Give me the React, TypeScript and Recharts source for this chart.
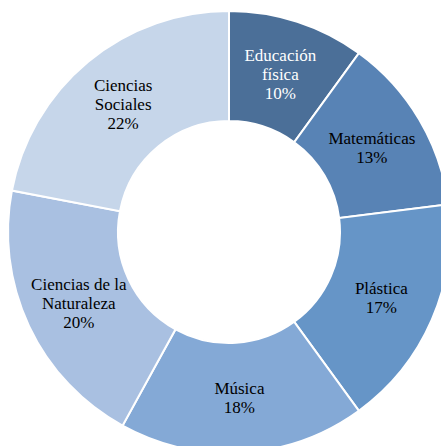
import React from 'react';
import { PieChart, Pie, Cell } from 'recharts';

const categories: string[][] = [
  ['Educación', 'física'],
  ['Matemáticas'],
  ['Plástica'],
  ['Música'],
  ['Ciencias de la', 'Naturaleza'],
  ['Ciencias', 'Sociales'],
];
const values = [10, 13, 17, 18, 20, 22];
const colors = ['#4b6f98', '#5883b5', '#6695c7', '#84a9d6', '#a9c0e1', '#c6d6ea'];
const textColors = ['#ffffff', '#000000', '#000000', '#000000', '#000000', '#000000'];

const data = categories.map((lines, i) => ({
  name: lines.join(' '),
  lines,
  value: values[i],
}));

const RAD = Math.PI / 180;
const FONT = 'Liberation Serif, DejaVu Serif, serif';

const renderLabel = (props: any) => {
  const { cx, cy, midAngle, innerRadius, outerRadius, index } = props;
  const r = (innerRadius + outerRadius) / 2;
  const x = cx + r * Math.cos(-midAngle * RAD);
  const y = cy + r * Math.sin(-midAngle * RAD);
  const lines = [...categories[index], `${values[index]}%`];
  const lh = 19;
  const start = y - ((lines.length - 1) * lh) / 2;
  return (
    <g key={`lbl-${index}`}>
      {lines.map((l, i) => (
        <text
          key={i}
          x={x}
          y={start + i * lh + 6}
          textAnchor="middle"
          fill={textColors[index]}
          fontFamily={FONT}
          fontSize={17}
          style={{ fontFamily: FONT, fontSize: '17px' }}
        >
          {l}
        </text>
      ))}
    </g>
  );
};

export default function App() {
  return (
    <div style={{ position: 'absolute', left: 0, top: 0, width: 441, height: 446, background: '#fff', fontFamily: FONT }}>
      <PieChart width={441} height={446} margin={{ top: 0, right: 0, bottom: 0, left: 0 }}>
        <Pie
          data={data}
          dataKey="value"
          cx={229}
          cy={232}
          innerRadius={111}
          outerRadius={221}
          startAngle={90}
          endAngle={-270}
          stroke="#ffffff"
          strokeWidth={2}
          label={renderLabel}
          labelLine={false}
          isAnimationActive={false}
        >
          {data.map((d, i) => (
            <Cell key={d.name} fill={colors[i]} />
          ))}
        </Pie>
      </PieChart>
    </div>
  );
}
